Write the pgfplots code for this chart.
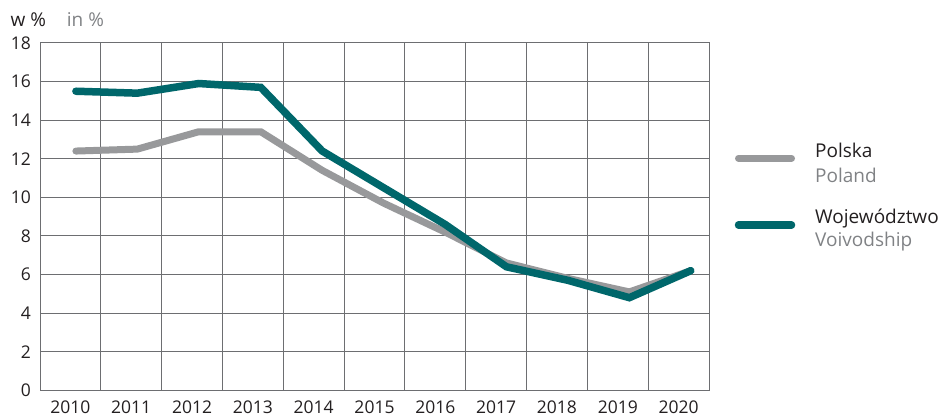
\documentclass[border=0pt]{standalone}
\usepackage{fontspec}
\setmainfont{Open Sans}
\usepackage{pgfplots}
\pgfplotsset{compat=1.18}
\definecolor{teal1}{HTML}{00676B}
\definecolor{gray1}{HTML}{98999B}
\definecolor{grid1}{HTML}{6D6E71}
\definecolor{txt}{HTML}{231F20}
\definecolor{txtgray}{HTML}{808285}
\begin{document}
\fontsize{19bp}{22bp}\selectfont
\begin{tikzpicture}[x=1bp,y=1bp]
\useasboundingbox (0,0) rectangle (943,417);
\begin{axis}[
  at={(40bp,26.7bp)}, anchor=south west, scale only axis,
  width=669bp, height=347.3bp,
  xmin=-0.5, xmax=10.5, ymin=0, ymax=18,
  xtick={0,1,2,3,4,5,6,7,8,9,10},
  xticklabels={2010,2011,2012,2013,2014,2015,2016,2017,2018,2019,2020},
  ytick={0,2,4,6,8,10,12,14,16,18},
  minor xtick={0.5,1.5,2.5,3.5,4.5,5.5,6.5,7.5,8.5,9.5},
  xminorgrids, ymajorgrids,
  major tick length=0pt, minor tick length=0pt,
  axis line style={grid1, line width=1bp},
  grid style={grid1, line width=1bp},
  minor grid style={grid1, line width=1bp},
  tick label style={font=\fontsize{17.5bp}{20bp}\selectfont, text=txt, inner sep=0pt},
  yticklabel style={anchor=east, xshift=-9bp},
  xticklabel style={anchor=north, yshift=-10.5bp},
  /pgf/number format/assume math mode=true,
  /pgf/number format/1000 sep={},
  clip=false,
]
\addplot[gray1, line width=7bp, line cap=round] coordinates {
 (0.09,12.4) (1.10,12.5) (2.11,13.4) (3.13,13.4) (4.14,11.4) (5.15,9.7)
 (6.16,8.2) (7.17,6.6) (8.18,5.8) (9.19,5.1) (10.20,6.2)};
\addplot[teal1, line width=7.5bp, line cap=round] coordinates {
 (0.09,15.5) (1.10,15.4) (2.11,15.9) (3.13,15.7) (4.14,12.4) (5.15,10.5)
 (6.16,8.6) (7.17,6.4) (8.18,5.7) (9.19,4.8) (10.20,6.2)};
\end{axis}
\node[anchor=base west, inner sep=0pt, text=txt] at (10.5,390.3) {w \%};
\node[anchor=base west, inner sep=0pt, text=txtgray] at (66.7,390.3) {in \%};
\draw[gray1, line width=7bp, line cap=round] (738.5,258.7) -- (791.5,258.7);
\node[anchor=base west, inner sep=0pt, text=txt] at (815,259.7) {Polska};
\node[anchor=base west, inner sep=0pt, text=txtgray] at (815,234.3) {Poland};
\draw[teal1, line width=7.5bp, line cap=round] (738.5,192) -- (791.5,192);
\node[anchor=base west, inner sep=0pt, text=txt] at (815,194) {Województwo};
\node[anchor=base west, inner sep=0pt, text=txtgray] at (815,171) {Voivodship};
\end{tikzpicture}
\end{document}
